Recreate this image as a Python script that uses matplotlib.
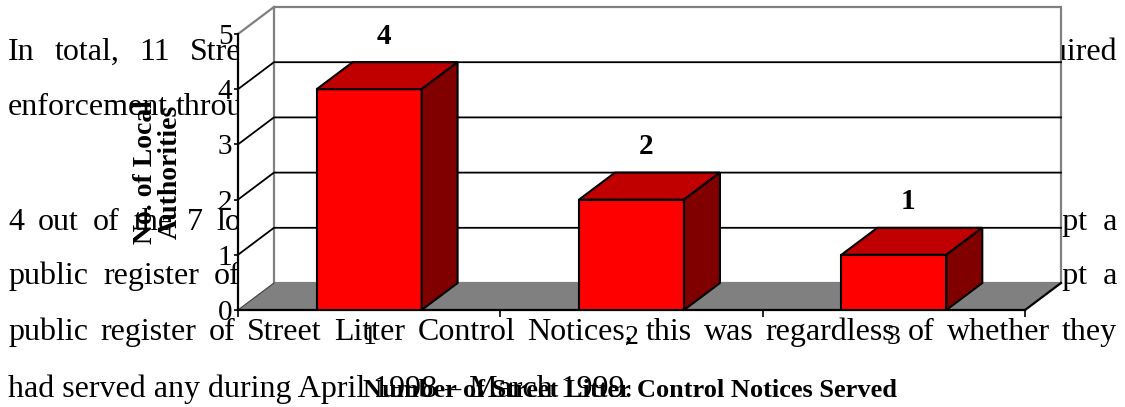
import numpy as np
import matplotlib
matplotlib.use('Agg')
import matplotlib.pyplot as plt
from matplotlib.patches import Polygon, Rectangle

# chart data
categories = ['1', '2', '3']
counts = [4, 2, 1]
y_ticks = [0, 1, 2, 3, 4, 5]
y_title = 'No. of Local\nAuthorities'
x_title = 'Number of Street Litter Control Notices Served'

# report text that the chart was pasted on top of
para_left = ['In total, 11 Street',
             'enforcement through',
             '4 out of the 7 local',
             'public register of']
para_right = ['required', '', 'kept a', 'kept a']
full_line = 'public register of Street Litter Control Notices, this was regardless of whether they'
last_line = 'had served any during April 1998 \u2013 March 1999.'

# layout (pixels of the 1125x407 picture)
left_base = [60, 115, 230, 284]
left_gap = [20, 8, 14, 15]
W, H = 1125, 407
DX, DY = 0.137, 0.489        # depth of the fake 3d box, in data units
serif = 'Liberation Serif'

fig = plt.figure(figsize=(W / 100, H / 100), dpi=100)
renderer = fig.canvas.get_renderer()

# background page with the text
bg = fig.add_axes([0, 0, 1, 1], zorder=0)
bg.set_xlim(0, W)
bg.set_ylim(H, 0)
bg.axis('off')
doc_font = dict(family=serif, fontsize=23, va='baseline', ha='left', color='black')


def put_words(words, x0, y, gap=None, x1=None):
    # place words one by one, with a fixed gap or stretched out to x1 (justified)
    arts = [bg.text(0, y, w, **doc_font) for w in words]
    widths = [a.get_window_extent(renderer).width for a in arts]
    if x1 is not None:
        gap = (x1 - x0 - sum(widths)) / (len(words) - 1)
    x = x0
    for a, w in zip(arts, widths):
        a.set_x(x)
        x += w + gap


for txt, right, yb, gap in zip(para_left, para_right, left_base, left_gap):
    put_words(txt.split(), 8, yb, gap=gap)
    if right:
        bg.text(1117, yb, right.replace(' ', '  '), **{**doc_font, 'ha': 'right'})
put_words(full_line.split(), 8, 340, x1=1117)
bg.text(8, 397, last_line, **doc_font)

# the chart, front plane: x 0.5..3.5, y 0..5
ax = fig.add_axes([238 / W, (H - 310) / H, 823 / W, 303 / H], zorder=1)
ax.patch.set_visible(False)
ax.set_xlim(0.5, len(categories) + 0.5 + DX)
ax.set_ylim(0, max(y_ticks) + DY)
x0, x1 = 0.5, len(categories) + 0.5
ytop = max(y_ticks)

# walls and floor
ax.add_patch(Polygon([(x0, 0), (x0, ytop), (x0 + DX, ytop + DY), (x0 + DX, DY)],
                     fc='white', ec='none', zorder=0.5, clip_on=False))
ax.add_patch(Rectangle((x0 + DX, DY), x1 - x0, ytop, fc='white', ec='#808080',
                       lw=1.6, zorder=0.6, clip_on=False))
ax.add_patch(Polygon([(x0, 0), (x0 + DX, DY), (x1 + DX, DY), (x1, 0)],
                     fc='#808080', ec='none', zorder=0.7, clip_on=False))
ax.plot([x0, x0 + DX], [ytop, ytop + DY], color='#808080', lw=1.6, zorder=0.8, clip_on=False)
ax.plot([x0, x0 + DX], [0, DY], color='#404040', lw=0.8, zorder=0.8, clip_on=False)
ax.plot([x1, x1 + DX], [0, DY], color='black', lw=1.6, zorder=0.8, clip_on=False)
for t in y_ticks[1:-1]:
    ax.plot([x0, x0 + DX, x1 + DX], [t, t + DY, t + DY], color='black', lw=1.3,
            zorder=1, clip_on=False)

# bars: front face with ax.bar, top and side faces as polygons
xpos = np.arange(1, len(categories) + 1)
bw = 0.4
ax.bar(xpos, counts, width=bw, color='#FF0000', edgecolor='black', linewidth=1.5, zorder=3)
for c, v in zip(xpos, counts):
    l, r = c - bw / 2, c + bw / 2
    ax.add_patch(Polygon([(l, v), (l + DX, v + DY), (r + DX, v + DY), (r, v)],
                         fc='#C00000', ec='black', lw=1.5, zorder=3, clip_on=False))
    ax.add_patch(Polygon([(r, 0), (r + DX, DY), (r + DX, v + DY), (r, v)],
                         fc='#800000', ec='black', lw=1.5, zorder=3, clip_on=False))
    ax.text(c + 0.055, v + DY + 0.47, str(v), ha='center', va='center',
            family=serif, fontweight='bold', fontsize=21, zorder=4)

# axes lines and ticks
for s in ['top', 'right']:
    ax.spines[s].set_visible(False)
ax.spines['left'].set_bounds(0, ytop)
ax.spines['bottom'].set_bounds(x0, x1)
ax.spines['left'].set_linewidth(1.6)
ax.spines['bottom'].set_linewidth(1.6)
ax.spines['bottom'].set_zorder(2)

ax.set_yticks(y_ticks)
ax.set_yticklabels([str(t) for t in y_ticks], family=serif, fontsize=21)
ax.tick_params(axis='y', direction='out', length=3, width=1.2, pad=1)

ax.set_xticks(np.arange(len(categories) + 1) + 0.5)
ax.set_xticklabels([])
ax.set_xticks(xpos, minor=True)
ax.set_xticklabels(categories, minor=True, family=serif, fontsize=20)
ax.tick_params(axis='x', which='major', direction='out', length=5, width=1.2)
ax.tick_params(axis='x', which='minor', length=0, pad=11)

# axis titles
ax.text((158 - 238) / 823, (310 - 172) / 303, y_title, transform=ax.transAxes,
        rotation=90, ha='center', va='center', multialignment='center',
        family=serif, fontweight='bold', fontsize=20, linespacing=1.0)
ax.text((630 - 238) / 823, (310 - 397) / 303, x_title, transform=ax.transAxes,
        ha='center', va='baseline', family=serif, fontweight='bold', fontsize=19)

fig.savefig('out.png', dpi=100)
